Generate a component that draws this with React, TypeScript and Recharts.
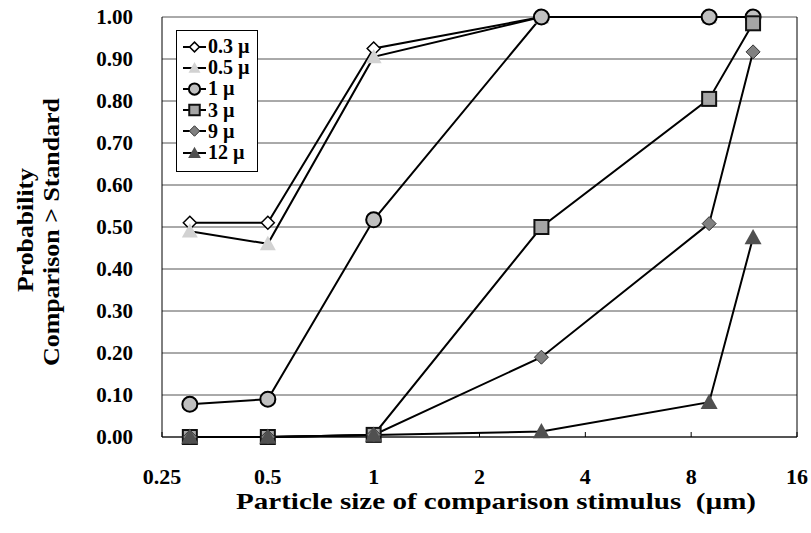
import React from "react";
import {
  LineChart, Line, XAxis, YAxis, CartesianGrid, ReferenceLine,
} from "recharts";

// particle sizes of the comparison stimulus (µm)
const sizes = [0.3, 0.5, 1, 3, 9, 12];

// probability comparison > standard, one list per standard size
const p03 = [0.51, 0.51, 0.925, 1.0, 1.0, 1.0];
const p05 = [0.49, 0.46, 0.905, 1.0, 1.0, 1.0];
const p1 = [0.078, 0.09, 0.517, 1.0, 1.0, 1.0];
const p3 = [0.0, 0.0, 0.005, 0.5, 0.805, 0.985];
const p9 = [0.0, 0.0, 0.005, 0.19, 0.508, 0.917];
const p12 = [0.0, 0.0, 0.005, 0.013, 0.083, 0.475];

const seriesLabels = ["0.3 \u00b5", "0.5 \u00b5", "1 \u00b5", "3 \u00b5", "9 \u00b5", "12 \u00b5"];
const xTicks = [0.25, 0.5, 1, 2, 4, 8, 16];
const yTicks = [0, 0.1, 0.2, 0.3, 0.4, 0.5, 0.6, 0.7, 0.8, 0.9, 1.0];

const FONT = "'Liberation Serif', 'Times New Roman', serif";

const rows = sizes.map((s, i) => ({
  size: s, p03: p03[i], p05: p05[i], p1: p1[i], p3: p3[i], p9: p9[i], p12: p12[i],
}));

type MarkerStyle = { shape: string; size: number; fill: string; stroke: string; sw: number };

const markers: Record<string, MarkerStyle> = {
  p03: { shape: "diamond", size: 6.5, fill: "#ffffff", stroke: "#000", sw: 1.5 },
  p05: { shape: "triangle", size: 8, fill: "#d2d2d2", stroke: "none", sw: 0 },
  p1: { shape: "circle", size: 7.5, fill: "#c0c0c0", stroke: "#000", sw: 2 },
  p3: { shape: "square", size: 7, fill: "#a6a6a6", stroke: "#111", sw: 2 },
  p9: { shape: "diamond", size: 7, fill: "#808080", stroke: "#333", sw: 1 },
  p12: { shape: "triangle", size: 8.5, fill: "#505050", stroke: "none", sw: 0 },
};
const keys = ["p03", "p05", "p1", "p3", "p9", "p12"];

function Marker({ cx, cy, m }: { cx: number; cy: number; m: MarkerStyle }) {
  const s = m.size;
  if (m.shape === "circle")
    return <circle cx={cx} cy={cy} r={s} fill={m.fill} stroke={m.stroke} strokeWidth={m.sw} />;
  if (m.shape === "square")
    return <rect x={cx - s} y={cy - s} width={2 * s} height={2 * s} fill={m.fill} stroke={m.stroke} strokeWidth={m.sw} />;
  if (m.shape === "diamond")
    return (
      <polygon
        points={`${cx},${cy - s} ${cx + s},${cy} ${cx},${cy + s} ${cx - s},${cy}`}
        fill={m.fill} stroke={m.stroke} strokeWidth={m.sw}
      />
    );
  return (
    <polygon
      points={`${cx},${cy - s} ${cx + s},${cy + s * 0.8} ${cx - s},${cy + s * 0.8}`}
      fill={m.fill} stroke={m.stroke} strokeWidth={m.sw}
    />
  );
}

const makeDot = (k: string) => (props: any) => {
  const { cx, cy, index } = props;
  if (cx == null || cy == null) return <g key={`${k}-${index}`} />;
  return <Marker key={`${k}-${index}`} cx={cx} cy={cy} m={markers[k]} />;
};

function YTitle() {
  return (
    <g fontFamily={FONT} fontWeight="bold" fontSize={23} fill="#000">
      <text
        x={25} y={230} transform="rotate(-90 25 230)" textAnchor="middle" dominantBaseline="central"
        textLength={124} lengthAdjust="spacingAndGlyphs"
      >
        Probability
      </text>
      <text
        x={51} y={232} transform="rotate(-90 51 232)" textAnchor="middle" dominantBaseline="central"
        textLength={268} lengthAdjust="spacingAndGlyphs"
      >
        Comparison &gt; Standard
      </text>
    </g>
  );
}

function XTitle() {
  return (
    <text
      x={496} y={509} textAnchor="middle" fontFamily={FONT} fontWeight="bold" fontSize={24}
      fill="#000" textLength={520} lengthAdjust="spacingAndGlyphs" style={{ whiteSpace: "pre" }}
    >
      {"Particle size of comparison stimulus  (\u00b5m)"}
    </text>
  );
}

function LegendBox() {
  return (
    <div
      style={{
        position: "absolute", left: 176, top: 30, width: 82, height: 142,
        border: "1px solid #000", background: "#fff", boxSizing: "border-box",
        padding: "5px 0 0 5px", fontFamily: FONT, fontWeight: "bold", fontSize: 20,
      }}
    >
      {keys.map((k, i) => (
        <div key={k} style={{ display: "flex", alignItems: "center", height: 21.2, lineHeight: "21px" }}>
          <svg width={25} height={18} style={{ flex: "none" }}>
            <line x1={1} y1={9} x2={24} y2={9} stroke="#000" strokeWidth={2} />
            <Marker cx={12.5} cy={9} m={{ ...markers[k], size: markers[k].size * 0.75 }} />
          </svg>
          <span style={{ marginLeft: 1, whiteSpace: "nowrap" }}>{seriesLabels[i]}</span>
        </div>
      ))}
    </div>
  );
}

export default function App() {
  return (
    <div style={{ position: "absolute", left: 0, top: 0, width: 811, height: 533, background: "#fff" }}>
      <LineChart
        width={811}
        height={533}
        data={rows}
        margin={{ top: 17, right: 14, bottom: 36, left: 0 }}
      >
        <CartesianGrid vertical={false} stroke="#555" strokeWidth={1} />
        <XAxis
          dataKey="size"
          type="number"
          scale="log"
          domain={[0.25, 16]}
          ticks={xTicks}
          allowDataOverflow
          height={60}
          stroke="#000"
          tickSize={-5}
          tickMargin={36}
          tick={{ fill: "#000", fontFamily: FONT, fontWeight: "bold", fontSize: 22 }}
          tickFormatter={(v: number) => String(v)}
          label={{ content: () => <XTitle /> }}
        />
        <YAxis
          type="number"
          domain={[0, 1]}
          ticks={yTicks}
          width={162}
          stroke="#000"
          tickLine={false}
          tickSize={0}
          tickMargin={29}
          tick={{ fill: "#000", fontFamily: FONT, fontWeight: "bold", fontSize: 21 }}
          tickFormatter={(v: number) => v.toFixed(2)}
          label={{ content: () => <YTitle /> }}
        />
        <ReferenceLine x={16} stroke="#000" strokeWidth={1} />
        {keys.map((k) => (
          <Line
            key={k}
            dataKey={k}
            type="linear"
            stroke="#000"
            strokeWidth={2}
            dot={makeDot(k)}
            activeDot={false}
            isAnimationActive={false}
          />
        ))}
      </LineChart>
      <LegendBox />
    </div>
  );
}
